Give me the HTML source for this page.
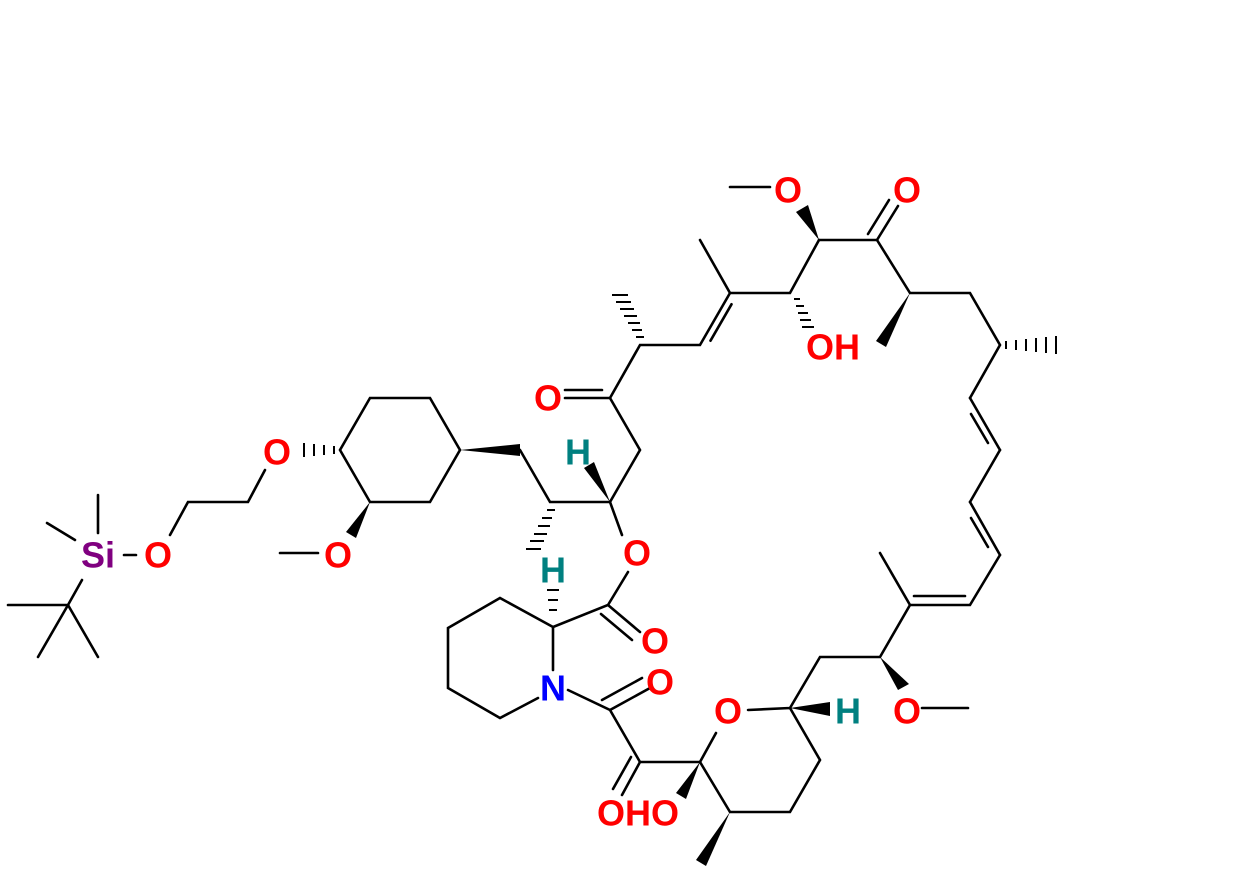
<!DOCTYPE html><html><head><style>body{margin:0;background:#fff}svg{display:block}
text{font-family:"Liberation Sans",sans-serif;font-weight:bold;font-size:36px;text-anchor:middle;dominant-baseline:central}
.o{fill:#ff0000}.h{fill:#008080}</style></head><body>
<svg width="1257" height="877" viewBox="0 0 1257 877">
<g stroke="#000" stroke-width="2.6" fill="none" stroke-linecap="round">
<path d="M730 187H770"/>
<path d="M819 240L877 240L910 293L970 293L1000 345L970 398"/>
<path d="M877 240L898 206M868 234L889 200"/>
<path d="M1000 450L970 502M1000 555L970 605L910 605L880 553M910 605L880 657L820 657L790 708"/>
<path d="M970 398L1000 450M971 414L988 443M970 502L1000 555M971 518L988 547M965 596H914"/>
<path d="M790 708L820 760L790 812L730 812L700 762L716 733M790 708L748 710"/>
<path d="M922 708H968"/>
<path d="M700 762L640 762L610 710L568 690M640 762L622 795M631 757L613 789M610 710L650 688M602 700L642 678"/>
<path d="M553 670L553 627L608 605L628 572M608 605L640 632M601 614L632 640M553 627L500 598L448 628L448 688L500 718L538 698"/>
<path d="M622 535L610 502L640 450L610 398L640 345L700 345L730 293L700 240M730 293L790 293L819 240"/>
<path d="M710.5 340.7L731.5 304.3"/>
<path d="M610 398L565 398M602 390L565 390"/>
<path d="M610 502L550 502L520 450"/>
<path d="M460 450L430 398L370 398L340 450L370 502L430 502Z"/>
<path d="M170 535L188 502L248 502L265 470M124 555H136"/>
<path d="M98 495V533M47 523L75 540M82 580L68 605L8 605M68 605L38 657M68 605L98 657"/>
<path d="M280 553H318"/>
</g>
<g fill="#000">
<polygon points="819,240 796,212 808,205"/>
<polygon points="910,293 876,341 886,347"/>
<polygon points="880,657 898,690 909,684"/>
<polygon points="790,708 830,702 830,716"/>
<polygon points="730,812 696,860 706,866"/>
<polygon points="700,762 676,793 686,799"/>
<polygon points="610,502 584,468 594,462"/>
<polygon points="460,450 520,444 520,456"/>
<polygon points="370,502 346,532 356,538"/>
</g>
<g stroke="#000" stroke-width="2" >
<path d="M1006 341v8M1016 340v10M1026 339v12M1036 338v14M1046 337v16M1056 336v18"/>
<path d="M636 337h8M632 330h10M628 323h12M624 316h13M620 309h14M616 302h15M612 295h16"/>
<path d="M794 299h6M796 306h8M798 313h10M800 320h11M802 327h12"/>
<path d="M549 610h8M548 600h10M547 590h12"/>
<path d="M547 510h8M542 518h10M538 526h12M534 534h13M530 541h14M526 549h15"/>
<path d="M334 446v8M324 445v10M314 444v12M304 443v14"/>
</g>
<text class="o" x="788" y="190">O</text>
<text class="o" x="907" y="190">O</text>
<text class="o" x="833" y="347">OH</text>
<text class="o" x="548" y="398">O</text>
<text class="h" x="578" y="452">H</text>
<text class="o" x="637" y="553">O</text>
<text class="h" x="553" y="570">H</text>
<text class="o" x="655" y="641">O</text>
<text class="o" x="660" y="682">O</text>
<text x="553" y="688" style="fill:#0000ff">N</text>
<text class="o" x="728" y="711">O</text>
<text class="h" x="848" y="711">H</text>
<text class="o" x="907" y="711">O</text>
<text class="o" x="638" y="813">OHO</text>
<text class="o" x="277" y="452">O</text>
<text class="o" x="338" y="555">O</text>
<text class="o" x="158" y="555">O</text>
<text x="98" y="555" style="fill:#800080">Si</text>
</svg></body></html>
